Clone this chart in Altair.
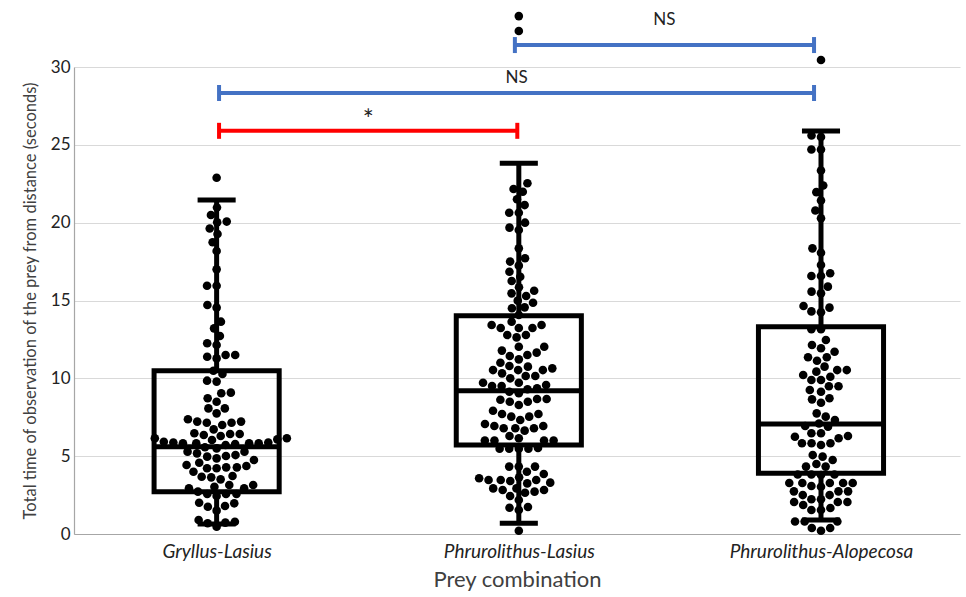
import altair as alt
import pandas as pd
import numpy as np

categories = ["Gryllus-Lasius", "Phrurolithus-Lasius", "Phrurolithus-Alopecosa"]

gryllus_lasius = [
    22.89, 20.97, 20.49, 20.02, 20.07, 19.63, 19.27, 18.74, 18.18, 17.0, 15.95, 15.95,
    14.71, 14.54, 13.64, 13.21, 12.72, 12.25, 12.14,
    11.28, 11.39, 11.5, 11.5, 10.49, 10.28, 9.79, 9.85, 9.04, 9.08, 8.72, 8.5, 8.07, 8.07,
    7.75, 7.37, 7.22, 7.15, 7.15, 7.22, 7.0, 6.72, 6.47, 6.42, 6.42, 6.36, 6.3, 5.78, 6.15,
    6.15, 5.87, 5.93, 6.08, 5.83, 5.83, 5.83, 5.83, 5.87, 5.72, 6.04, 5.57, 5.5, 5.29, 5.07,
    5.18, 5.01, 5.29, 4.97, 4.86, 4.75, 4.58, 4.43, 4.22, 4.22, 4.37, 4.28, 4.28, 4.0, 3.73,
    3.51, 3.68, 3.64, 3.15, 3.15, 2.94, 2.94, 3.04, 2.57, 2.57, 2.57, 2.72, 2.44, 1.75, 1.97,
    2.01, 1.8, 1.5, 0.69, 0.79, 0.73, 0.9, 0.47,
]
phrurolithus_lasius = [
    33.27, 32.31, 22.53, 21.99, 22.16, 21.5, 21.13, 20.64, 20.64, 20.0, 19.53, 19.68, 18.35,
    17.71, 17.24, 17.5, 16.85, 16.25, 16.53, 15.85, 15.46, 15.63, 15.29, 14.86, 14.99, 14.5,
    14.56, 14.07, 13.64, 13.43, 13.43, 13.23, 13.23, 13.23,
    12.78, 12.78, 12.63, 12.03, 12.03, 11.78, 11.5, 11.65, 11.43, 11.22, 11.0, 10.53, 10.53,
    10.75, 10.79, 10.64, 10.53, 10.15, 10.32, 10.15, 10.0, 9.72, 9.57, 9.72, 9.51, 9.51, 9.36,
    9.14, 9.3, 9.04, 8.5, 8.5, 8.67, 8.67, 8.62, 8.29, 7.92, 7.71, 7.71, 7.54, 7.54, 7.32,
    7.07, 6.94, 6.94, 6.79, 6.64, 6.79, 6.79, 6.3, 6.15, 6.0, 6.0, 6.0, 6.0, 5.48, 5.48, 5.48,
    5.52, 5.48, 4.33, 4.33, 4.33, 4.0, 3.85, 3.3, 3.47, 3.64, 3.25, 3.58, 3.47, 3.47, 3.4,
    2.93, 2.83, 2.93, 2.83, 2.44, 2.65, 2.72, 2.18, 1.73, 1.69, 1.54, 0.21,
]
phrurolithus_alopecosa = [
    30.45, 25.6, 25.5, 24.7, 24.7, 23.35, 22.39, 21.96, 21.42, 20.78, 20.28, 18.35, 18.07,
    17.28, 16.75, 16.57, 16.57, 15.89, 15.57, 15.46, 14.54, 14.65, 14.3, 14.25,
    13.15, 13.15, 12.46, 12.14, 11.93, 11.71, 11.35, 11.35, 11.13, 10.75, 10.53, 10.53, 10.43,
    10.21, 9.89, 9.89, 10.1, 9.49, 9.49, 9.25, 9.14, 8.65, 8.72, 8.43, 7.75, 7.54, 7.32, 7.1,
    6.89, 6.94, 6.25, 6.15, 6.47, 6.47, 5.83, 5.83, 5.83, 6.3, 5.72, 5.07, 4.97, 4.75, 4.33,
    4.5, 4.33, 3.79, 3.82, 3.82, 3.82, 3.28, 3.28, 3.28, 3.28, 3.28, 3.08, 3.04, 2.74, 2.74,
    2.74, 2.5, 2.5, 2.23, 2.23, 2.06, 2.06, 2.06, 1.67, 1.54, 1.54, 1.86, 0.8, 0.8, 0.8,
    0.39, 0.39, 0.21,
]

# box summaries
q1 = [2.72, 5.72, 3.9]
median = [5.61, 9.21, 7.07]
q3 = [10.49, 14.02, 13.32]
whisker_low = [0.64, 0.69, 0.9]
whisker_high = [21.45, 23.81, 25.89]

# significance brackets
bracket_from = [0.008, 0.008, 0.987]
bracket_to = [0.995, 1.977, 1.977]
bracket_level = [25.9, 28.33, 31.41]
bracket_text = ["*", "NS", "NS"]
bracket_text_level = [26.55, 29.29, 33.02]
bracket_text_size = [26, 17, 17]
bracket_color = ["#ff0000", "#4472c4", "#4472c4"]

# ---- layout helpers ----
W, H = 886, 467
X_DOM = [-0.472, 2.46]
Y_DOM = [0, 30]
px_x = W / (X_DOM[1] - X_DOM[0])
px_y = H / (Y_DOM[1] - Y_DOM[0])
DOT = 9.6


def swarm(values):
    vals = np.asarray(values, dtype=float)
    order = np.argsort(vals, kind="stable")
    placed = []
    offs = np.zeros(len(vals))
    for i in order:
        y = vals[i] * px_y
        cands = [0.0]
        for (px, py) in placed:
            dy = abs(py - y)
            if dy < DOT:
                dx = np.sqrt(DOT * DOT - dy * dy)
                cands += [px + dx, px - dx]
        cands.sort(key=lambda c: (abs(c), c))
        chosen = 0.0
        for c in cands:
            if all((c - px) ** 2 + (y - py) ** 2 >= DOT * DOT - 1e-6 for px, py in placed):
                chosen = c
                break
        placed.append((chosen, y))
        offs[i] = chosen
    return offs / px_x


rows = []
for gi, vals in enumerate([gryllus_lasius, phrurolithus_lasius, phrurolithus_alopecosa]):
    offs = swarm(vals)
    for v, o in zip(vals, offs):
        rows.append({"pos": gi + o, "val": v})
points = pd.DataFrame(rows)

box_half = 0.207
cap_half = 0.063
boxes = pd.DataFrame({
    "pos": [0, 1, 2],
    "left": [i - box_half for i in range(3)],
    "right": [i + box_half for i in range(3)],
    "capl": [i - cap_half for i in range(3)],
    "capr": [i + cap_half for i in range(3)],
    "q1": q1, "med": median, "q3": q3, "lo": whisker_low, "hi": whisker_high,
})

br = pd.DataFrame({
    "a": bracket_from, "b": bracket_to, "lvl": bracket_level,
    "txt": bracket_text, "tlvl": bracket_text_level, "col": bracket_color,
    "fs": bracket_text_size,
})
br["mid"] = (br["a"] + br["b"]) / 2
br["tick_lo"] = br["lvl"] - 8 / px_y
br["tick_hi"] = br["lvl"] + 8 / px_y
br_ends = pd.concat([
    br[["a", "tick_lo", "tick_hi", "col"]].rename(columns={"a": "x"}),
    br[["b", "tick_lo", "tick_hi", "col"]].rename(columns={"b": "x"}),
])

FONT = "Lato"
label_expr = "datum.value == 0 ? '%s' : datum.value == 1 ? '%s' : '%s'" % tuple(categories)

xscale = alt.Scale(domain=X_DOM, nice=False, zero=False)
yscale = alt.Scale(domain=Y_DOM, nice=False, zero=False)

xaxis = alt.Axis(values=[0, 1, 2], labelExpr=label_expr, grid=False, ticks=False,
                 domainColor="#a6a6a6", domainWidth=1.2, labelFont=FONT, labelFontSize=19,
                 labelFontStyle="italic", labelColor="#222222", labelPadding=8, labelLimit=0,
                 title="Prey combination", titleFont=FONT, titleFontSize=22,
                 titleFontWeight="normal", titleColor="#404040", titlePadding=8)
yaxis = alt.Axis(values=[0, 5, 10, 15, 20, 25, 30], grid=True, gridColor="#d9d9d9",
                 gridWidth=1, ticks=False, domainColor="#a6a6a6", domainWidth=1.2,
                 labelFont=FONT, labelFontSize=17, labelColor="#222222", labelPadding=4,
                 title="Total time of observation of the prey from distance (seconds)",
                 titleFont=FONT, titleFontSize=16.5, titleFontWeight="normal",
                 titleColor="#404040", titlePadding=12)

X = lambda f: alt.X(f, type="quantitative", scale=xscale, axis=xaxis)
Y = lambda f: alt.Y(f, type="quantitative", scale=yscale, axis=yaxis)

dots = alt.Chart(points).mark_circle(color="black", opacity=1, size=74).encode(
    x=X("pos"), y=Y("val"))

box = alt.Chart(boxes).mark_rect(fillOpacity=0, stroke="black", strokeWidth=5).encode(
    x=X("left"), x2="right", y=Y("q1"), y2="q3")

med = alt.Chart(boxes).mark_rule(color="black", strokeWidth=5).encode(
    x=X("left"), x2="right", y=Y("med"))

whisk_lo = alt.Chart(boxes).mark_rule(color="black", strokeWidth=5).encode(
    x=X("pos"), y=Y("lo"), y2="q1")
whisk_hi = alt.Chart(boxes).mark_rule(color="black", strokeWidth=5).encode(
    x=X("pos"), y=Y("q3"), y2="hi")
cap_lo = alt.Chart(boxes).mark_rule(color="black", strokeWidth=5).encode(
    x=X("capl"), x2="capr", y=Y("lo"))
cap_hi = alt.Chart(boxes).mark_rule(color="black", strokeWidth=5).encode(
    x=X("capl"), x2="capr", y=Y("hi"))

br_h = alt.Chart(br).mark_rule(strokeWidth=4).encode(
    x=X("a"), x2="b", y=Y("lvl"), color=alt.Color("col:N", scale=None))
br_t = alt.Chart(br_ends).mark_rule(strokeWidth=4).encode(
    x=X("x"), y=Y("tick_lo"), y2="tick_hi", color=alt.Color("col:N", scale=None))
br_txt = alt.Chart(br).mark_text(font=FONT, color="#222222", baseline="middle").encode(
    x=X("mid"), y=Y("tlvl"), text="txt:N",
    size=alt.Size("fs:Q", scale=None, legend=None))

chart = alt.layer(dots, box, med, whisk_lo, whisk_hi, cap_lo, cap_hi, br_h, br_t, br_txt).properties(
    width=W, height=H,
    autosize=alt.AutoSizeParams(type="none"),
    padding={"left": 74, "top": 67, "right": 6, "bottom": 63},
    background="white",
).configure_view(stroke=None)

chart.save("out.html", embed_options={"renderer": "svg", "actions": False})
